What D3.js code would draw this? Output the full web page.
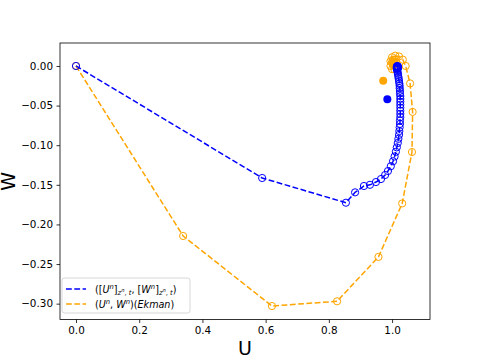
<!DOCTYPE html>
<html>
<head>
<meta charset="utf-8">
<script src="https://cdn.jsdelivr.net/npm/d3@7"></script>
<style>
  body { margin: 0; background: #fff; }
  text { font-family: "DejaVu Sans", sans-serif; }
</style>
</head>
<body>
<svg id="chart"></svg>
<script>
// values (U, W)
const bluePts = [
    [0, 0], [0.589, -0.1414], [0.854, -0.1726], [0.883, -0.1595], [0.911, -0.1515],
    [0.930, -0.150], [0.949, -0.1465], [0.965, -0.1427], [0.978, -0.1376], [0.987, -0.1326],
    [0.996, -0.1265], [1.003, -0.1203], [1.008, -0.1142], [1.012, -0.1083], [1.015, -0.1027],
    [1.018, -0.0972], [1.020, -0.0920], [1.022, -0.0870], [1.023, -0.0822], [1.024, -0.0776],
    [1.025, -0.0731], [1.025, -0.0688], [1.026, -0.0646], [1.026, -0.0605], [1.026, -0.0565],
    [1.026, -0.0526], [1.026, -0.0488], [1.026, -0.0451], [1.026, -0.0415], [1.026, -0.0380],
    [1.025, -0.0346], [1.025, -0.0313], [1.024, -0.0281], [1.024, -0.0250], [1.023, -0.0220],
    [1.022, -0.0191], [1.021, -0.0163], [1.020, -0.0137], [1.019, -0.0112], [1.018, -0.0089],
    [1.017, -0.0068], [1.016, -0.0049], [1.015, -0.0033], [1.015, -0.0019], [1.015, -0.0008],
    [1.016, 0.0], [1.018, -0.0004], [1.019, -0.0012], [1.019, -0.0022], [1.018, -0.0030],
    [1.017, -0.0034], [1.016, -0.0032]
];
const orangePts = [
    [0, 0], [0.339, -0.2146], [0.62, -0.303], [0.826, -0.297], [0.957, -0.241],
    [1.032, -0.1735], [1.063, -0.1086], [1.065, -0.058], [1.057, -0.022], [1.043, 0.0],
    [1.034, 0.008], [1.022, 0.012], [1.010, 0.013], [1.0, 0.011], [0.995, 0.006],
    [0.995, 0.0], [1.0, -0.004], [1.007, -0.004], [1.012, -0.001], [1.013, 0.004],
    [1.009, 0.008], [1.003, 0.008], [1.0, 0.005], [1.002, 0.002], [1.006, 0.002],
    [1.008, 0.004], [1.006, 0.006], [1.004, 0.005]
];
// single filled points
const orangeDot = [0.972, -0.0186];
const blueDot = [0.985, -0.042];

const xTicks = [0, 0.2, 0.4, 0.6, 0.8, 1.0];
const yTicks = [0, -0.05, -0.10, -0.15, -0.20, -0.25, -0.30];

const width = 478, height = 359;
const mLeft = 60, mRight = 430, mTop = 43, mBottom = 319.5;

const svg = d3.select("#chart").attr("width", width).attr("height", height);

const x = d3.scaleLinear().domain([-0.0506, 1.12]).range([mLeft, mRight]);
const y = d3.scaleLinear().domain([-0.320, 0.029]).range([mBottom, mTop]);

const line = d3.line().x(d => x(d[0])).y(d => y(d[1]));

function drawSeries(pts, color) {
    svg.append("path")
        .attr("d", line(pts))
        .attr("fill", "none")
        .attr("stroke", color)
        .attr("stroke-width", 1.5)
        .attr("stroke-dasharray", "5.8,2.5");
    svg.append("g").selectAll("circle")
        .data(pts)
        .enter().append("circle")
        .attr("cx", d => x(d[0]))
        .attr("cy", d => y(d[1]))
        .attr("r", 3.6)
        .attr("fill", "none")
        .attr("stroke", color)
        .attr("stroke-width", 1);
}

drawSeries(orangePts, "orange");
drawSeries(bluePts, "blue");

svg.append("circle").attr("cx", x(orangeDot[0])).attr("cy", y(orangeDot[1])).attr("r", 4).attr("fill", "orange");
svg.append("circle").attr("cx", x(blueDot[0])).attr("cy", y(blueDot[1])).attr("r", 4).attr("fill", "blue");

// axes
const fmtY = v => (v < 0 ? "\u2212" : "") + Math.abs(v).toFixed(2);
svg.append("g")
    .attr("transform", `translate(0,${mBottom})`)
    .call(d3.axisBottom(x).tickValues(xTicks).tickFormat(d3.format(".1f")).tickSizeOuter(0).tickSize(3.5).tickPadding(3.5))
    .call(g => g.select(".domain").remove())
    .selectAll("text").attr("font-size", 10.4).attr("fill", "#000").attr("font-family", "DejaVu Sans");
svg.append("g")
    .attr("transform", `translate(${mLeft},0)`)
    .call(d3.axisLeft(y).tickValues(yTicks).tickFormat(fmtY).tickSizeOuter(0).tickSize(3.5).tickPadding(3.5))
    .call(g => g.select(".domain").remove())
    .selectAll("text").attr("font-size", 10.4).attr("fill", "#000").attr("font-family", "DejaVu Sans");
svg.selectAll(".tick line").attr("stroke", "#000").attr("stroke-width", 0.8);

// frame
svg.append("rect")
    .attr("x", mLeft).attr("y", mTop)
    .attr("width", mRight - mLeft).attr("height", mBottom - mTop)
    .attr("fill", "none").attr("stroke", "#000").attr("stroke-width", 0.8);

svg.append("text").attr("x", (mLeft + mRight) / 2).attr("y", 355)
    .attr("text-anchor", "middle").attr("font-size", 19).text("U");
svg.append("text").attr("transform", `translate(15,${(mTop + mBottom) / 2}) rotate(-90)`)
    .attr("text-anchor", "middle").attr("font-size", 19).text("W");

// legend
const lg = svg.append("g");
lg.append("rect").attr("x", 62).attr("y", 278).attr("width", 128).attr("height", 35)
    .attr("rx", 2.5).attr("fill", "#fff").attr("fill-opacity", 0.8)
    .attr("stroke", "#ccc").attr("stroke-width", 0.8);

// pieces: text, italic, shift (0 normal, 1 sup, -1 sub, 2 sup of sub)
function mathText(xx, yy, parts) {
    const t = lg.append("text").attr("x", xx).attr("y", yy).attr("font-size", 9.6);
    let cur = 0;
    const shift = { 0: 0, 1: -3.6, "-1": 2.2, 2: -0.6 };
    parts.forEach(p => {
        const target = shift[p[2]];
        t.append("tspan")
            .attr("dy", target - cur)
            .attr("font-style", p[1] ? "italic" : "normal")
            .attr("font-size", p[2] === 0 ? 9.6 : (p[2] === 2 ? 5.2 : 6.8))
            .text(p[0]);
        cur = target;
    });
}

const legendRows = [
    { color: "blue", y: 289, parts: [["([", 0, 0], ["U", 1, 0], ["n", 1, 1], ["]", 0, 0], ["z", 1, -1], ["n", 1, 2], [", ", 0, -1], ["t", 1, -1], [", [", 0, 0], ["W", 1, 0], ["n", 1, 1], ["]", 0, 0], ["z", 1, -1], ["n", 1, 2], [", ", 0, -1], ["t", 1, -1], [")", 0, 0]] },
    { color: "orange", y: 304, parts: [["(", 0, 0], ["U", 1, 0], ["n", 1, 1], [", ", 0, 0], ["W", 1, 0], ["n", 1, 1], [")(", 0, 0], ["Ekman", 1, 0], [")", 0, 0]] }
];
legendRows.forEach(r => {
    lg.append("line").attr("x1", 66).attr("x2", 86).attr("y1", r.y).attr("y2", r.y)
        .attr("stroke", r.color).attr("stroke-width", 1.5).attr("stroke-dasharray", "5.8,2.5");
    mathText(95, r.y + 3.5, r.parts);
});
</script>
</body>
</html>
